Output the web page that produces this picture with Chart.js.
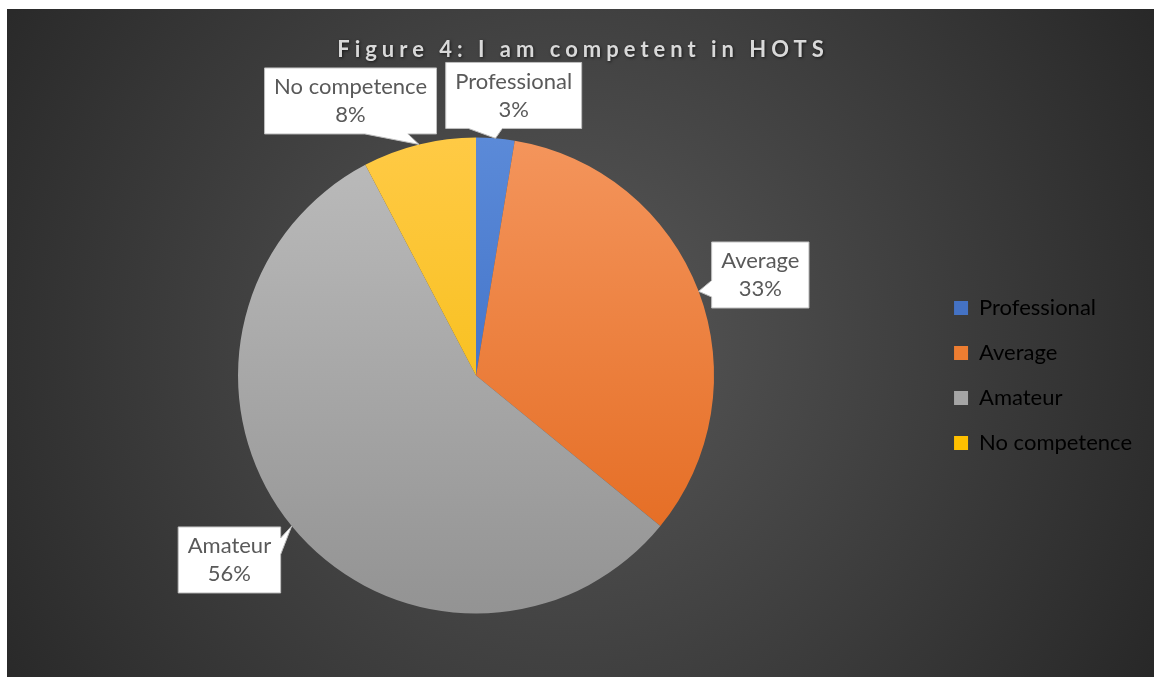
<!DOCTYPE html>
<html>
<head>
<meta charset="utf-8">
<script src="https://cdn.jsdelivr.net/npm/chart.js@4"></script>
<style>
  html, body { margin: 0; padding: 0; background: #fff; }
  #wrap { position: absolute; left: 7px; top: 9px; width: 1147px; height: 668px; }
</style>
</head>
<body>
<div id="wrap"><canvas id="hotsChart"></canvas></div>
<script>
// data
const categories = ['Professional', 'Average', 'Amateur', 'No competence'];
const shares = [2.6, 33.3, 56.4, 7.7];
const chartTitle = 'Figure 4: I am competent in HOTS';

// colours (Office palette with a light-to-dark gradient on the slices)
const baseColors = ['#4472c4', '#ed7d31', '#a5a5a5', '#ffc000'];
const topColors = ['#5b8ad8', '#f4955c', '#bcbcbc', '#ffca45'];
const bottomColors = ['#2f62bd', '#e2661a', '#939393', '#f2b800'];

// small shifts of the callouts from their default spot (px)
const calloutNudge = [[14, 9], [13, 2], [-22, 1], [-56, 7]];

Chart.defaults.font.family = 'Lato';

// gradient fill per slice, from the top of the pie to its bottom
function sliceFill(context) {
    const chart = context.chart;
    const area = chart.chartArea;
    const i = context.dataIndex;
    if (!area) return baseColors[i];
    const r = context.dataset.radius;
    const cy = (area.top + area.bottom) / 2;
    const g = chart.ctx.createLinearGradient(0, cy - r, 0, cy + r);
    g.addColorStop(0, topColors[i]);
    g.addColorStop(1, bottomColors[i]);
    return g;
}

// dark radial background
const backgroundPlugin = {
    id: 'darkBackground',
    beforeDraw(chart) {
        const {ctx, width, height} = chart;
        ctx.save();
        const g = ctx.createRadialGradient(560, 330, 0, 560, 330, 700);
        g.addColorStop(0, '#585858');
        g.addColorStop(1, '#262626');
        ctx.fillStyle = g;
        ctx.fillRect(0, 0, width, height);
        ctx.restore();
    }
};

// title with letter spacing (the built-in title cannot do that)
const spacedTitlePlugin = {
    id: 'spacedTitle',
    afterDraw(chart) {
        const ctx = chart.ctx;
        const spacing = 5;
        ctx.save();
        ctx.font = 'bold 22px Lato';
        ctx.letterSpacing = spacing + 'px';
        ctx.textAlign = 'left';
        ctx.textBaseline = 'middle';
        const w = ctx.measureText(chartTitle).width - spacing;
        ctx.shadowColor = 'rgba(0,0,0,0.6)';
        ctx.shadowBlur = 3;
        ctx.shadowOffsetX = 1;
        ctx.shadowOffsetY = 1;
        ctx.fillStyle = '#d9d9d9';
        ctx.fillText(chartTitle, chart.width / 2 - w / 2, 41);
        ctx.restore();
    }
};

// white callout boxes, like Excel's wedgeRectCallout
function calloutPath(ctx, l, t, w, h, tx, ty) {
    const hc = l + w / 2, vc = t + h / 2;
    const dx = tx - hc, dy = ty - vc;
    const dz = Math.abs(dy) - Math.abs(dx * h / w);
    const x1 = l + w * (dx > 0 ? 7 : 2) / 12, x2 = l + w * (dx > 0 ? 10 : 5) / 12;
    const y1 = t + h * (dy > 0 ? 7 : 2) / 12, y2 = t + h * (dy > 0 ? 10 : 5) / 12;
    ctx.beginPath();
    ctx.moveTo(l, t);
    if (dz > 0 && dy < 0) { ctx.lineTo(x1, t); ctx.lineTo(tx, ty); ctx.lineTo(x2, t); }
    ctx.lineTo(l + w, t);
    if (dz < 0 && dx > 0) { ctx.lineTo(l + w, y1); ctx.lineTo(tx, ty); ctx.lineTo(l + w, y2); }
    ctx.lineTo(l + w, t + h);
    if (dz > 0 && dy > 0) { ctx.lineTo(x2, t + h); ctx.lineTo(tx, ty); ctx.lineTo(x1, t + h); }
    ctx.lineTo(l, t + h);
    if (dz < 0 && dx < 0) { ctx.lineTo(l, y2); ctx.lineTo(tx, ty); ctx.lineTo(l, y1); }
    ctx.closePath();
}

const calloutPlugin = {
    id: 'callouts',
    afterDatasetsDraw(chart) {
        const ctx = chart.ctx;
        const meta = chart.getDatasetMeta(0);
        const values = chart.data.datasets[0].data;
        const total = values.reduce((a, b) => a + b, 0);
        ctx.save();
        ctx.font = '22px Lato';
        meta.data.forEach((arc, i) => {
            const p = arc.getProps(['x', 'y', 'startAngle', 'endAngle', 'outerRadius'], true);
            const mid = (p.startAngle + p.endAngle) / 2;
            const tx = p.x + p.outerRadius * Math.cos(mid);
            const ty = p.y + p.outerRadius * Math.sin(mid);
            const d = p.outerRadius + 52;
            const cx = p.x + d * Math.cos(mid) + calloutNudge[i][0];
            const cy = p.y + d * Math.sin(mid) + calloutNudge[i][1];
            const line1 = chart.data.labels[i];
            const line2 = Math.round(values[i] / total * 100) + '%';
            const w = Math.max(ctx.measureText(line1).width, ctx.measureText(line2).width) + 19;
            const h = 66;
            calloutPath(ctx, cx - w / 2, cy - h / 2, w, h, tx, ty);
            ctx.fillStyle = '#ffffff';
            ctx.fill();
            ctx.lineWidth = 1;
            ctx.strokeStyle = '#bfbfbf';
            ctx.stroke();
            ctx.fillStyle = '#595959';
            ctx.textAlign = 'center';
            ctx.textBaseline = 'middle';
            ctx.fillText(line1, cx, cy - 14);
            ctx.fillText(line2, cx, cy + 14);
        });
        ctx.restore();
    }
};

new Chart(document.getElementById('hotsChart'), {
    type: 'pie',
    data: {
        labels: categories,
        datasets: [{
            data: shares,
            radius: 238,
            backgroundColor: sliceFill,
            borderWidth: 0,
            hoverOffset: 0
        }]
    },
    options: {
        responsive: true,
        maintainAspectRatio: false,
        animation: false,
        layout: {
            padding: {left: 14, right: 12, top: 85, bottom: 20}
        },
        plugins: {
            title: {display: false},
            tooltip: {enabled: false},
            legend: {
                position: 'right',
                labels: {
                    color: '#d9d9d9',
                    font: {size: 22},
                    boxWidth: 14,
                    boxHeight: 14,
                    padding: 23,
                    generateLabels(chart) {
                        return chart.data.labels.map((label, i) => ({
                            text: label,
                            fillStyle: baseColors[i],
                            strokeStyle: baseColors[i],
                            lineWidth: 0,
                            hidden: false,
                            index: i
                        }));
                    }
                }
            }
        }
    },
    plugins: [backgroundPlugin, spacedTitlePlugin, calloutPlugin]
});
</script>
</body>
</html>
